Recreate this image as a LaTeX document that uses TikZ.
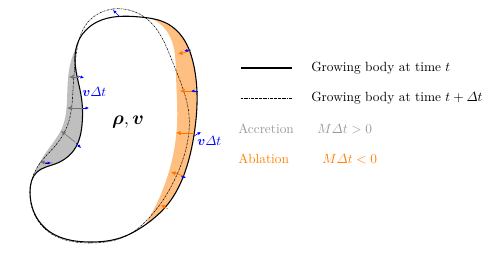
\documentclass[tikz,border=0pt]{standalone}
\usepackage{amsmath,amssymb,bm}
\usetikzlibrary{arrows.meta,hobby}
\begin{document}
\begin{tikzpicture}[x=0.75pt,y=-0.75pt,
  solidline/.style={line width=0.8pt,black},
  dashdotline/.style={line width=0.4pt,black,dash pattern=on 1.4pt off 0.6pt on 0.25pt off 0.6pt},
  blueArr/.style={blue,line width=0.45pt,-{Latex[length=2.6pt,width=2.4pt]}},
  grayArr/.style={gray!90!black,line width=0.45pt,-{Latex[length=3.4pt,width=3.2pt]}},
  orangeArr/.style={orange!90!red,line width=0.45pt,-{Latex[length=3.4pt,width=3.2pt]}},
  lbl/.style={anchor=west,inner sep=0pt}]
\useasboundingbox (0,0) rectangle (498,254);

% accretion region (grey)
\fill[gray!50] plot[hobby] coordinates {(77,46) (70,65) (67,100) (62,128) (47,151) (33,176)}
  -- plot[hobby] coordinates {(33,176) (40,170) (55,164) (74,150) (82,125) (81,95) (76,64) (77,46)} -- cycle;

% ablation region (orange)
\fill[orange!50] plot[hobby] coordinates {(150,18) (168,24) (183,38) (193,62) (197,93) (194,135) (185,172) (168,204) (145,225)}
  -- plot[hobby] coordinates {(145,225) (157,203) (170,168) (177,125) (176,75) (168,33) (150,18)} -- cycle;

% body at time t + Delta t
\draw[dashdotline] plot[closed hobby] coordinates {(113,9) (147,19) (173,63) (189,115) (182,162) (165,197) (148,219) (130,234) (90,243) (45,229) (30,192) (38,166) (55,146) (68,124) (73,90) (76,56) (88,22)};

% body at time t
\draw[solidline] plot[closed hobby] coordinates {(140,17) (168,24) (183,38) (193,62) (197,93) (194,135) (185,172) (168,204) (145,225) (120,238) (90,242) (45,228) (30,192) (37,172) (55,164) (74,150) (82,125) (81,95) (75,62) (80,38) (97,22)};

% grey arrows
\draw[grayArr] (79,77) -- (69,77);
\draw[grayArr] (83,108) -- (67,108);
\draw[grayArr] (75,142) -- (61,131);
\draw[grayArr] (53,163) -- (40,162);
% orange arrows
\draw[orangeArr] (190,51) -- (178,54);
\draw[orangeArr] (196,91) -- (180,91);
\draw[orangeArr] (194,133) -- (176,133);
\draw[orangeArr] (184,176) -- (171,172);
\draw[orangeArr] (168,209) -- (161,205);
% blue arrows
\draw[blueArr] (78,76) -- (84,78);
\draw[blueArr] (83,108) -- (89,108);
\draw[blueArr] (76,143) -- (81,148);
\draw[blueArr] (45,163) -- (51,163);
\draw[blueArr] (120,17) -- (113,10);
\draw[blueArr] (191,50) -- (184,51);
\draw[blueArr] (198,91) -- (191,91);
\draw[blueArr] (194,136) -- (201,132);
\draw[blueArr] (181,176) -- (186,178);

% labels
\node[lbl,text=blue] (vl) at (82,92) {$\bm{v}\varDelta t$};
\node[lbl,text=blue] (vr) at (197,141) {$\bm{v}\varDelta t$};
\node (rho) at (128,122) {\Large $\bm{\rho},\bm{v}$};

% legend
\coordinate (l1a) at (241,68); \coordinate (l1b) at (292,68);
\coordinate (l2a) at (241,98); \coordinate (l2b) at (292,98);
\draw[solidline] (l1a) -- (l1b);
\draw[dashdotline] (l2a) -- (l2b);
\node[lbl] (t1) at (311,68) {Growing body at time $t$};
\node[lbl] (t2) at (311,98) {Growing body at time $t+\varDelta t$};
\node[lbl,text=gray!80] (acc) at (238,129) {Accretion};
\node[lbl,text=gray!80] (accm) at (317,129) {$M\varDelta t>0$};
\node[lbl,text=orange] (abl) at (238,159) {Ablation};
\node[lbl,text=orange] (ablm) at (322,159) {$M\varDelta t<0$};
\end{tikzpicture}
\end{document}
